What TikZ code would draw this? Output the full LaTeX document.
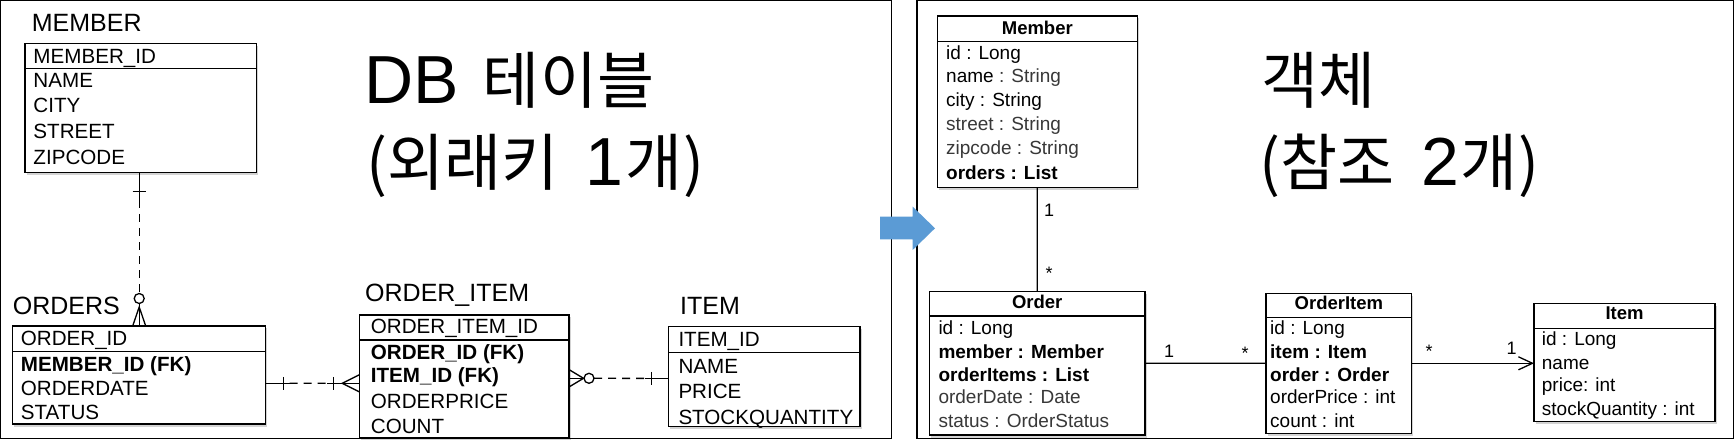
\documentclass[tikz,border=0pt]{standalone}
\usepackage{fontspec}
\setmainfont{Liberation Sans}
\newfontfamily\krfont{Noto Sans CJK KR}
\newcommand\krtxt[1]{{\krfont\fontsize{62bp}{72bp}\selectfont #1}}
\usetikzlibrary{shadows,arrows.meta}
\definecolor{arrowblue}{HTML}{5B9BD5}
\colorlet{lite}{black!78}
\begin{document}
\begin{tikzpicture}[x=1bp,y=-1bp,
 tbl/.style={draw,line width=1.3bp,fill=white,inner sep=0pt,outer sep=0pt,anchor=north west,
   drop shadow={shadow xshift=1.5bp,shadow yshift=-2.5bp,opacity=0.35}},
 sepline/.style={line width=1.3bp},
 dbrow/.style={anchor=base west,inner sep=0pt,font=\fontsize{20.6bp}{23bp}\selectfont},
 dbttl/.style={anchor=base west,inner sep=0pt,font=\fontsize{25bp}{28bp}\selectfont},
 urow/.style={anchor=base west,inner sep=0pt,font=\fontsize{19bp}{21bp}\selectfont},
 uttl/.style={anchor=base,inner sep=0pt,font=\fontsize{18.5bp}{21bp}\selectfont\bfseries},
 mult/.style={anchor=base,inner sep=0pt,font=\fontsize{18bp}{20bp}\selectfont},
 big/.style={anchor=base west,inner sep=0pt,font=\fontsize{68bp}{76bp}\selectfont},
 conn/.style={line width=1.3bp},
 dashpat/.style={dash pattern=on 8bp off 6bp}]
\useasboundingbox (0,0) rectangle (1735,440);

% ---------------- DB tables ----------------
\node[tbl,minimum width=231.7bp,minimum height=129bp] (member) at (25,43.3) {};
\draw[sepline] ([yshift=-25bp]member.north west) -- ([yshift=-25bp]member.north east);
\node[dbttl] (memberT) at (31.7,31.7) {MEMBER};
\node[dbrow] (m1) at (33.3,63.3) {MEMBER\_ID};
\node[dbrow] (m2) at (33.3,87.3) {NAME};
\node[dbrow] (m3) at (33.3,112.7) {CITY};
\node[dbrow] (m4) at (33.3,138.5) {STREET};
\node[dbrow] (m5) at (33.3,165) {ZIPCODE};

\node[tbl,minimum width=253bp,minimum height=98bp] (orders) at (12.7,326) {};
\draw[sepline] ([yshift=-25.7bp]orders.north west) -- ([yshift=-25.7bp]orders.north east);
\node[dbttl] (ordersT) at (12.7,315) {ORDERS};
\node[dbrow] (o1) at (20.7,345.7) {ORDER\_ID};
\node[dbrow] (o2) at (20.7,371.7) {\bfseries MEMBER\_ID (FK)};
\node[dbrow] (o3) at (20.7,395.7) {ORDERDATE};
\node[dbrow] (o4) at (20.7,419.3) {STATUS};

\node[tbl,minimum width=209.7bp,minimum height=123bp] (orderitem) at (359.3,315) {};
\draw[sepline] ([yshift=-25bp]orderitem.north west) -- ([yshift=-25bp]orderitem.north east);
\node[dbttl] (orderitemT) at (365,301.7) {ORDER\_ITEM};
\node[dbrow] (oi1) at (370.7,334) {ORDER\_ITEM\_ID};
\node[dbrow] (oi2) at (370.7,360) {\bfseries ORDER\_ID (FK)};
\node[dbrow] (oi3) at (370.7,383) {\bfseries ITEM\_ID (FK)};
\node[dbrow] (oi4) at (370.7,408) {ORDERPRICE};
\node[dbrow] (oi5) at (370.7,433) {COUNT};

\node[tbl,minimum width=191.7bp,minimum height=100bp] (item) at (668.3,326.7) {};
\draw[sepline] ([yshift=-26bp]item.north west) -- ([yshift=-26bp]item.north east);
\node[dbttl] (itemT) at (680,315) {ITEM};
\node[dbrow] (i1) at (678.3,346.7) {ITEM\_ID};
\node[dbrow] (i2) at (678.3,374) {NAME};
\node[dbrow] (i3) at (678.3,398.3) {PRICE};
\node[dbrow] (i4) at (678.3,424) {STOCKQUANTITY};

% MEMBER -- ORDERS
\draw[conn] (orders.north |- member.south) -- ([yshift=-27.7bp]orders.north |- member.south);
\draw[conn] ([xshift=-6.5bp,yshift=-19.4bp]orders.north |- member.south) -- ([xshift=6.5bp,yshift=-19.4bp]orders.north |- member.south);
\draw[conn,dashpat] ([yshift=-27.7bp]orders.north |- member.south) -- ([yshift=32.5bp]orders.north);
\draw[conn] ([yshift=27.5bp]orders.north) circle (5bp);
\draw[conn] ([xshift=-6.5bp]orders.north) -- ([yshift=19bp]orders.north) -- ([xshift=6.5bp]orders.north);
\draw[conn] ([yshift=22.5bp]orders.north) -- (orders.north);

% ORDERS -- ORDER_ITEM  (line at y = 383.3)
\draw[conn] ([yshift=-8.3bp]orders.east) -- ([xshift=24bp,yshift=-8.3bp]orders.east);
\draw[conn,dashpat] ([xshift=24bp,yshift=-8.3bp]orders.east) -- ([xshift=-32bp,yshift=-6.8bp]orderitem.west);
\draw[conn] ([xshift=-32bp,yshift=-6.8bp]orderitem.west) -- ([yshift=-6.8bp]orderitem.west);
\draw[conn] ([xshift=17.6bp,yshift=-1.8bp]orders.east) -- ([xshift=17.6bp,yshift=-14.8bp]orders.east);
\draw[conn] ([xshift=-26bp,yshift=-0.3bp]orderitem.west) -- ([xshift=-26bp,yshift=-13.3bp]orderitem.west);
\draw[conn] ([yshift=1.7bp]orderitem.west) -- ([xshift=-17bp,yshift=-6.8bp]orderitem.west) -- ([yshift=-15.3bp]orderitem.west);

% ORDER_ITEM -- ITEM  (line at y = 378.3)
\draw[conn] ([yshift=6.9bp]orderitem.east) -- ([xshift=14.5bp,yshift=-1.8bp]orderitem.east) -- ([yshift=-10.5bp]orderitem.east);
\draw[conn] ([yshift=-1.8bp]orderitem.east) -- ([xshift=15bp,yshift=-1.8bp]orderitem.east);
\draw[conn] ([xshift=20bp,yshift=-1.8bp]orderitem.east) circle (5bp);
\draw[conn,dashpat] ([xshift=25bp,yshift=-1.8bp]orderitem.east) -- ([xshift=-23.3bp,yshift=-1.7bp]item.west);
\draw[conn] ([xshift=-23.3bp,yshift=-1.7bp]item.west) -- ([yshift=-1.7bp]item.west);
\draw[conn] ([xshift=-16.6bp,yshift=4.8bp]item.west) -- ([xshift=-16.6bp,yshift=-8.2bp]item.west);

% ---------------- Objects ----------------
\node[tbl,minimum width=200bp,minimum height=171.3bp] (omember) at (937.3,16) {};
\draw[sepline] ([yshift=-25.7bp]omember.north west) -- ([yshift=-25.7bp]omember.north east);
\node[uttl] (omemberT) at (1037.3,34.3) {Member};
\node[urow] (u1) at (946,60) {id : Long};
\node[urow] (u2) at (946,82.7) {name \textcolor{lite}{: String}};
\node[urow] (u3) at (946,106.7) {city : String};
\node[urow] (u4) at (946,130.7) {\textcolor{lite}{street : String}};
\node[urow] (u5) at (946,155) {\textcolor{lite}{zipcode : String}};
\node[urow] (u6) at (946,180) {\bfseries orders : List};

\node[tbl,minimum width=215.7bp,minimum height=143.3bp] (oorder) at (929.3,291.7) {};
\draw[sepline] ([yshift=-24.3bp]oorder.north west) -- ([yshift=-24.3bp]oorder.north east);
\node[uttl] (oorderT) at (1037.2,308.3) {Order};
\node[urow] (v1) at (938.3,335) {id : Long};
\node[urow] (v2) at (938.3,358.3) {\bfseries member : Member};
\node[urow] (v3) at (938.3,381.7) {\bfseries orderItems : List};
\node[urow] (v4) at (938.3,403.3) {\textcolor{lite}{orderDate : Date}};
\node[urow] (v5) at (938.3,427.3) {\textcolor{lite}{status : OrderStatus}};

\node[tbl,minimum width=145.7bp,minimum height=140bp] (oorderitem) at (1266,293.3) {};
\draw[sepline] ([yshift=-24.4bp]oorderitem.north west) -- ([yshift=-24.4bp]oorderitem.north east);
\node[uttl] (oorderitemT) at (1338.9,309.3) {OrderItem};
\node[urow] (w1) at (1270,335) {id : Long};
\node[urow] (w2) at (1270,358.3) {\bfseries item : Item};
\node[urow] (w3) at (1270,381.7) {\bfseries order : Order};
\node[urow] (w4) at (1270,403.3) {orderPrice : int};
\node[urow] (w5) at (1270,427.3) {count : int};

\node[tbl,minimum width=181bp,minimum height=118.4bp] (oitem) at (1534,303.3) {};
\draw[sepline] ([yshift=-25bp]oitem.north west) -- ([yshift=-25bp]oitem.north east);
\node[uttl] (oitemT) at (1624.5,320) {Item};
\node[urow] (x1) at (1541.7,346) {id : Long};
\node[urow] (x2) at (1541.7,369.3) {name};
\node[urow] (x3) at (1541.7,391.7) {price: int};
\node[urow] (x4) at (1541.7,415) {stockQuantity : int};

\draw[conn] (omember.south) -- (oorder.north);
\node[mult] (mA) at (1049,216.7) {1};
\node[mult] (mB) at (1049,279.8) {*};
\draw[conn] (oorder.east) -- (oorderitem.west);
\node[mult] (mC) at (1169,357.3) {1};
\node[mult] (mD) at (1245,359.8) {*};
\draw[conn,-{Straight Barb[length=14bp,width=13bp]}] (oorderitem.east) -- (oitem.west |- oorderitem.east);
\node[mult] (mE) at (1429,357.8) {*};
\node[mult] (mF) at (1511.7,355) {1};

% titles
\node[big] (dbt1) at (364.4,103.5) {DB\hspace{5bp} \krtxt{테이블}};
\node[big] (dbt2) at (366,186) {\krtxt{(외래키}\hspace{8bp} 1\hspace{3bp}\krtxt{개)}};
\node[big] (obt1) at (1261,103.5) {\krtxt{객체}};
\node[big] (obt2) at (1259,186) {\krtxt{(참조}\hspace{8bp} 2\hspace{2bp}\krtxt{개)}};

% panels
\draw[line width=1.5bp] (0.75,0.75) rectangle (891.5,438.5);
\draw[line width=1.5bp] (917,0.75) rectangle (1733.5,438.5);

% blue arrow
\fill[arrowblue] (880,216.7) -- (912.7,216.7) -- (912.7,206.7) -- (935,228.3) -- (912.7,250) -- (912.7,239.3) -- (880,239.3) -- cycle;
\end{tikzpicture}
\end{document}
